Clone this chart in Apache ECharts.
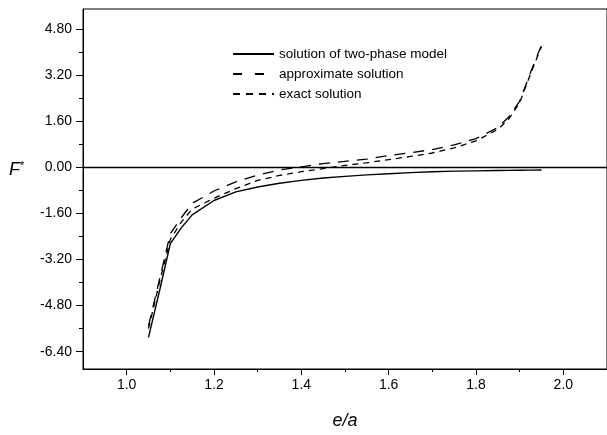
<!DOCTYPE html>
<html>
<head>
<meta charset="utf-8">
<script src="https://cdn.jsdelivr.net/npm/echarts@6/dist/echarts.min.js"></script>
<style>
  html, body { margin: 0; padding: 0; background: #fff; }
  #chart { width: 607px; height: 435px; }
</style>
</head>
<body>
<div id="chart"></div>
<script>
// e/a sample positions
const ea = [1.05, 1.075, 1.10, 1.125, 1.15, 1.20, 1.25, 1.30, 1.35, 1.40, 1.45, 1.50,
            1.55, 1.60, 1.65, 1.70, 1.75, 1.80, 1.85, 1.875, 1.90, 1.925, 1.95];

// F* for each solution
const twoPhase    = [-5.90, -4.30, -2.65, -2.10, -1.65, -1.15, -0.85, -0.68, -0.55, -0.45, -0.37, -0.31,
                     -0.26, -0.22, -0.18, -0.15, -0.13, -0.12, -0.11, -0.105, -0.10, -0.095, -0.09];
const approximate = [-5.50, -3.90, -2.30, -1.75, -1.25, -0.82, -0.50, -0.27, -0.09, 0.02, 0.13, 0.21,
                     0.29, 0.41, 0.51, 0.62, 0.78, 1.00, 1.38, 1.75, 2.30, 3.30, 4.25];
const exact       = [-5.60, -4.00, -2.50, -1.90, -1.45, -1.07, -0.74, -0.45, -0.28, -0.15, -0.04, 0.07,
                     0.16, 0.27, 0.38, 0.50, 0.68, 0.92, 1.32, 1.68, 2.25, 3.25, 4.20];

const seriesNames = ['solution of two-phase model', 'approximate solution', 'exact solution'];

// axis ticks
const xMajor = [1.0, 1.2, 1.4, 1.6, 1.8, 2.0];
const xMinor = [1.1, 1.3, 1.5, 1.7, 1.9];
const yMajor = [-6.4, -4.8, -3.2, -1.6, 0, 1.6, 3.2, 4.8];
const yMinor = [-5.6, -4.0, -2.4, -0.8, 0.8, 2.4, 4.0];

const FONT = 'Liberation Sans, Arial, sans-serif';
const pair = (xs, ys) => xs.map((x, i) => [x, ys[i]]);

const chart = echarts.init(document.getElementById('chart'), null, { renderer: 'canvas' });

const axisBase = {
  type: 'value',
  axisLine: { show: true, onZero: false, lineStyle: { color: '#000', width: 1 } },
  splitLine: { show: false }
};

chart.setOption({
  backgroundColor: '#fff',
  animation: false,
  grid: {
    left: 83, right: -6, top: 9, bottom: 64,
    show: true, borderColor: '#000', borderWidth: 1, backgroundColor: 'transparent'
  },
  legend: {
    orient: 'vertical',
    left: 227, top: 42,
    itemWidth: 41, itemHeight: 14, itemGap: 6,
    itemStyle: { opacity: 0 },
    textStyle: { fontFamily: FONT, fontSize: 13.5, color: '#000' },
    data: [
      { name: seriesNames[0] },
      { name: seriesNames[1], lineStyle: { type: [9, 13] } },
      { name: seriesNames[2], lineStyle: { type: [7, 6] } }
    ]
  },
  graphic: [
    {
      type: 'text', left: 9, top: 160, silent: true,
      style: {
        text: '{f|F}{s|*}',
        rich: {
          f: { fontFamily: FONT, fontSize: 18, fontStyle: 'italic', fill: '#000' },
          s: { fontFamily: FONT, fontSize: 11, fill: '#000', verticalAlign: 'top', padding: [0, 0, 9, 0] }
        }
      }
    }
  ],
  xAxis: [
    Object.assign({}, axisBase, {
      position: 'bottom',
      min: 0.9, max: 2.1,
      name: 'e/a', nameLocation: 'middle', nameGap: 43,
      nameTextStyle: { fontFamily: FONT, fontSize: 18, fontStyle: 'italic', color: '#000' },
      axisTick: { show: true, inside: false, length: 6, customValues: xMajor, lineStyle: { color: '#000' } },
      axisLabel: { show: true, margin: 9, customValues: xMajor, color: '#000', fontFamily: FONT, fontSize: 14,
                   formatter: v => v.toFixed(1) }
    }),
    Object.assign({}, axisBase, {
      position: 'bottom',
      min: 0.9, max: 2.1,
      axisLine: { show: false, onZero: false },
      axisTick: { show: true, length: 3, customValues: xMinor, lineStyle: { color: '#000' } },
      axisLabel: { show: false }
    })
  ],
  yAxis: [
    Object.assign({}, axisBase, {
      position: 'left',
      min: -7.0, max: 5.5,
      axisTick: { show: true, length: 7, customValues: yMajor, lineStyle: { color: '#000' } },
      axisLabel: { show: true, margin: 11, customValues: yMajor, color: '#000', fontFamily: FONT, fontSize: 14,
                   formatter: v => v.toFixed(2) }
    }),
    Object.assign({}, axisBase, {
      position: 'left',
      min: -7.0, max: 5.5,
      axisLine: { show: false, onZero: false },
      axisTick: { show: true, length: 4, customValues: yMinor, lineStyle: { color: '#000' } },
      axisLabel: { show: false }
    })
  ],
  series: [
    {
      name: seriesNames[0], type: 'line', data: pair(ea, twoPhase),
      symbol: 'none', smooth: false,
      lineStyle: { color: '#000', width: 1.4, type: 'solid' },
      itemStyle: { color: '#000' },
      markLine: {
        silent: true, symbol: ['none', 'none'], label: { show: false },
        lineStyle: { color: '#000', width: 1.3, type: 'solid' },
        data: [{ yAxis: 0 }]
      }
    },
    {
      name: seriesNames[1], type: 'line', data: pair(ea, approximate),
      symbol: 'none', smooth: false,
      lineStyle: { color: '#000', width: 1.3, type: [11, 8] },
      itemStyle: { color: '#000' }
    },
    {
      name: seriesNames[2], type: 'line', data: pair(ea, exact),
      symbol: 'none', smooth: false,
      lineStyle: { color: '#000', width: 1.3, type: [6, 5] },
      itemStyle: { color: '#000' }
    }
  ]
});
</script>
</body>
</html>
